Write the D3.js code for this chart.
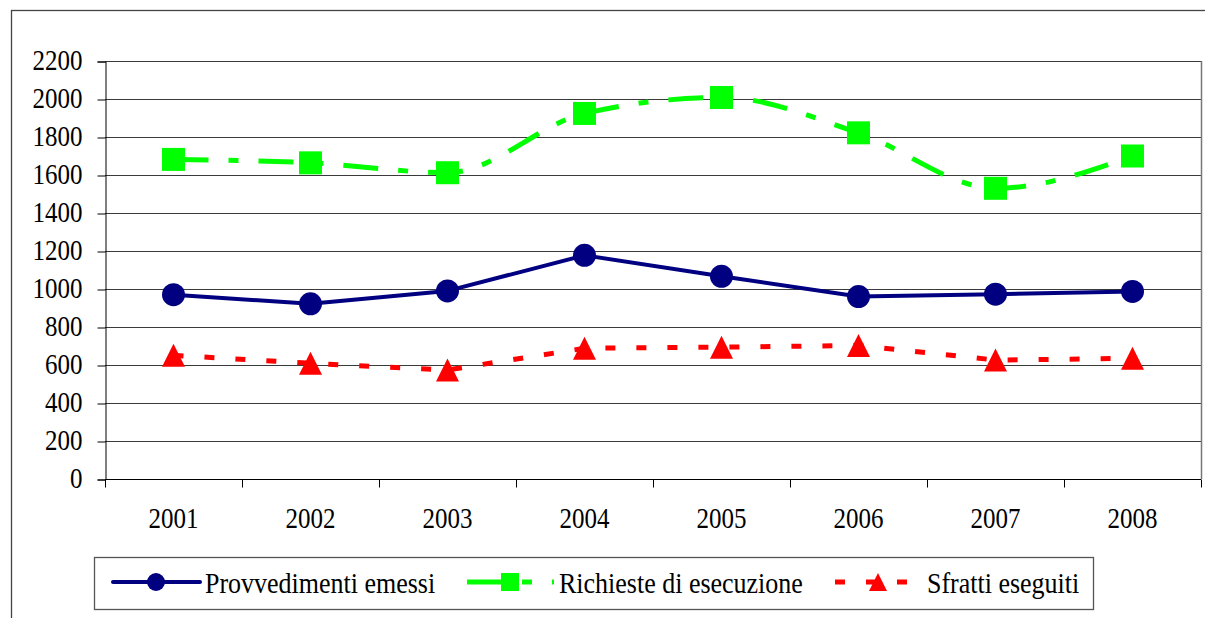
<!DOCTYPE html>
<html>
<head>
<meta charset="utf-8">
<script src="https://cdn.jsdelivr.net/npm/d3@7"></script>
<style>
  body { margin: 0; background: #fff; }
</style>
</head>
<body>
<div id="chart"></div>
<script>
// data
var years = ["2001", "2002", "2003", "2004", "2005", "2006", "2007", "2008"];
var provvedimenti = [970, 922, 990, 1177, 1067, 960, 973, 987];
var richieste = [1682, 1664, 1612, 1924, 2008, 1822, 1530, 1700];
var sfratti = [651, 609, 574, 688, 694, 703, 626, 635];
var yTicks = [0, 200, 400, 600, 800, 1000, 1200, 1400, 1600, 1800, 2000, 2200];

var series = [
  { name: "Provvedimenti emessi", values: provvedimenti, color: "#000080", width: 4, dash: null, marker: "circle", smooth: false },
  { name: "Richieste di esecuzione", values: richieste, color: "#00ff00", width: 5, dash: "35,20,10,20", marker: "square", smooth: true },
  { name: "Sfratti eseguiti", values: sfratti, color: "#ff0000", width: 5, dash: "10,21", marker: "triangle", smooth: false }
];

var FONT = "Liberation Serif";
var STRETCH = 1.15; // the original text is a bit taller than wide
var width = 1205, height = 618;
var margin = { top: 61, right: 4, bottom: 139, left: 105 };

var svg = d3.select("#chart").append("svg")
  .attr("width", width)
  .attr("height", height);

// outer frame (partly outside the window)
svg.append("rect")
  .attr("x", 11.5).attr("y", 10.5)
  .attr("width", 1300).attr("height", 700)
  .style("fill", "none").style("stroke", "#444").style("stroke-width", 1.3);

var x = d3.scaleBand().domain(years).range([margin.left, width - margin.right]);
var y = d3.scaleLinear().domain([0, 2200]).range([height - margin.bottom, margin.top]);

// gridlines
svg.append("g").selectAll("line")
  .data(yTicks.slice(1))
  .enter().append("line")
  .attr("x1", margin.left).attr("x2", width - margin.right)
  .attr("y1", function(d) { return Math.round(y(d)) + 0.5; })
  .attr("y2", function(d) { return Math.round(y(d)) + 0.5; })
  .style("stroke", "#3a3a3a").style("stroke-width", 1);

// right plot border
svg.append("line")
  .attr("x1", width - margin.right + 0.5).attr("x2", width - margin.right + 0.5)
  .attr("y1", margin.top).attr("y2", y(0))
  .style("stroke", "#777").style("stroke-width", 1.5);

// y axis
var yAxis = d3.axisLeft(y).tickValues(yTicks).tickSize(8).tickPadding(15).tickFormat(d3.format("d"));
var gy = svg.append("g")
  .attr("transform", "translate(" + (margin.left + 0.5) + ",0.5)")
  .call(yAxis);
gy.selectAll("path, line").style("stroke", "#000");
gy.selectAll("text").attr("fill", "#000")
  .attr("dy", "0.28em")
  .attr("transform", "scale(1," + STRETCH + ")")
  .style("font-family", FONT).style("font-size", "25px");

// x axis: labels at band centres, ticks at band edges
var xAxis = d3.axisBottom(x).tickSize(0).tickPadding(24);
var gx = svg.append("g")
  .attr("transform", "translate(0," + (Math.round(y(0)) + 0.5) + ")")
  .call(xAxis);
gx.select(".domain").remove();
gx.selectAll("text").attr("fill", "#000")
  .attr("transform", "scale(1," + STRETCH + ")")
  .style("font-family", FONT).style("font-size", "25px");

var edges = years.map(function(d) { return x(d); }).concat([x(years[years.length - 1]) + x.bandwidth()]);
gx.selectAll(".edge").data(edges).enter().append("line")
  .attr("class", "edge")
  .attr("x1", function(d) { return Math.round(d) + 0.5; })
  .attr("x2", function(d) { return Math.round(d) + 0.5; })
  .attr("y1", 0).attr("y2", 8)
  .style("stroke", "#000");
gx.append("line")
  .attr("x1", margin.left).attr("x2", width - margin.right)
  .attr("y1", 0).attr("y2", 0)
  .style("stroke", "#000");

var cx = function(i) { return x(years[i]) + x.bandwidth() / 2; };

function drawMarker(g, type, px, py, s, color) {
  if (type === "circle") {
    g.append("circle").attr("cx", px).attr("cy", py).attr("r", s / 2).style("fill", color);
  } else if (type === "square") {
    g.append("rect").attr("x", px - s / 2).attr("y", py - s / 2).attr("width", s).attr("height", s).style("fill", color);
  } else {
    var h = s;
    g.append("path")
      .attr("d", "M" + px + "," + (py - h / 2) + "L" + (px + s / 2) + "," + (py + h / 2) + "L" + (px - s / 2) + "," + (py + h / 2) + "Z")
      .style("fill", color);
  }
}

var plot = svg.append("g");
series.forEach(function(s) {
  var line = d3.line()
    .x(function(d, i) { return cx(i); })
    .y(function(d) { return y(d); })
    .curve(s.smooth ? d3.curveMonotoneX : d3.curveLinear);
  plot.append("path")
    .attr("d", line(s.values))
    .style("fill", "none")
    .style("stroke", s.color)
    .style("stroke-width", s.width)
    .style("stroke-dasharray", s.dash)
    .style("stroke-linejoin", "round");
});
series.forEach(function(s) {
  var mg = plot.append("g");
  s.values.forEach(function(v, i) {
    drawMarker(mg, s.marker, cx(i), y(v), 23, s.color);
  });
});

// legend
var legend = svg.append("g");
legend.append("rect")
  .attr("x", 94.5).attr("y", 557.5).attr("width", 999).attr("height", 52)
  .style("fill", "#fff").style("stroke", "#555").style("stroke-width", 1.3);

var legendX = [113, 467, 835];
series.forEach(function(s, i) {
  var g = legend.append("g").attr("transform", "translate(" + legendX[i] + ",582)");
  g.append("line")
    .attr("x1", 0).attr("x2", 87).attr("y1", 0).attr("y2", 0)
    .style("stroke", s.color).style("stroke-width", s.width)
    .style("stroke-linecap", s.dash ? "butt" : "round")
    .style("stroke-dasharray", s.dash);
  drawMarker(g, s.marker, 43, 0, 18, s.color);
  g.append("text")
    .attr("x", 92).attr("y", 11 / STRETCH)
    .attr("transform", "scale(1," + STRETCH + ")")
    .style("font-family", FONT)
    .style("font-size", "26px")
    .attr("fill", "#000")
    .text(s.name);
});
</script>
</body>
</html>
